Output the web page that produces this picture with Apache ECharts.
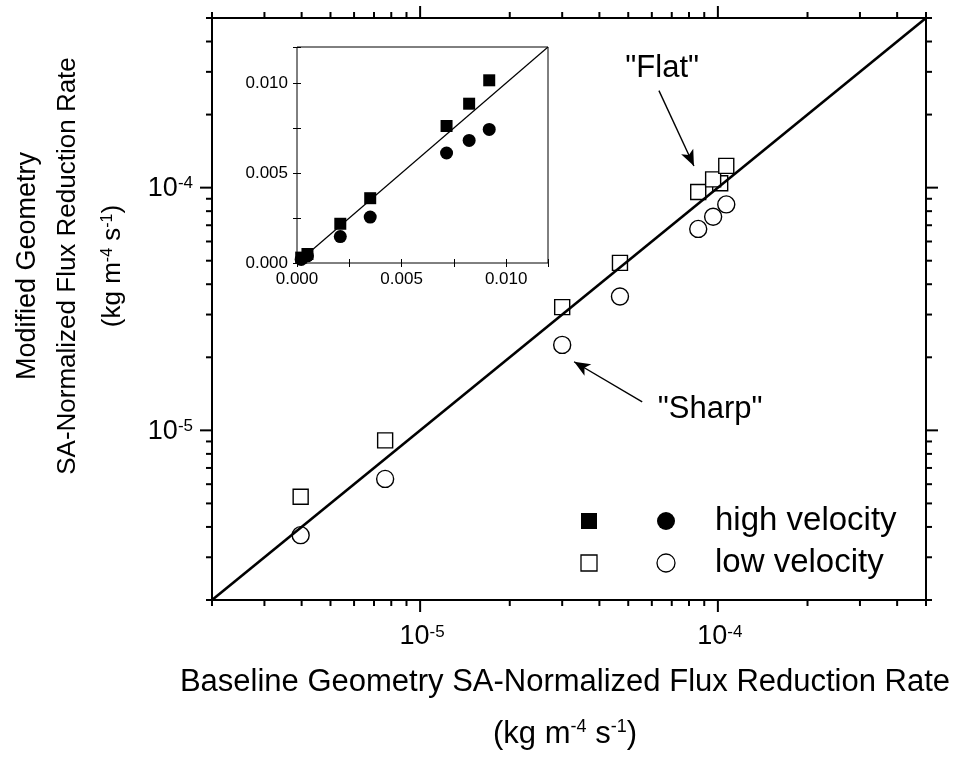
<!DOCTYPE html>
<html><head><meta charset="utf-8">
<script src="https://cdn.jsdelivr.net/npm/echarts@6/dist/echarts.min.js"></script>
<style>html,body{margin:0;padding:0;background:#fff}#c{width:966px;height:757px}</style>
</head><body><div id="c"></div>
<script>
const FONT = '"Liberation Sans", Arial, Helvetica, sans-serif';

// ---- main plot (log-log), low velocity, open symbols ----
const lowSquareX = [1.018e-4, 3.97e-6, 7.63e-6, 3.0e-5, 4.69e-5, 8.59e-5, 9.64e-5, 1.067e-4];
const lowSquareY = [1.042e-4, 5.33e-6, 9.09e-6, 3.22e-5, 4.90e-5, 9.59e-5, 1.082e-4, 1.229e-4];
const lowCircleX = [3.97e-6, 7.63e-6, 3.0e-5, 4.69e-5, 8.59e-5, 9.64e-5, 1.067e-4];
const lowCircleY = [3.70e-6, 6.31e-6, 2.25e-5, 3.56e-5, 6.76e-5, 7.59e-5, 8.53e-5];

// ---- inset (linear), high velocity, filled symbols ----
const highSquareX = [0.0002, 0.0005, 0.00207, 0.0035, 0.00715, 0.00823, 0.00919];
const highSquareY = [0.0003, 0.0005, 0.00218, 0.0036, 0.00761, 0.00885, 0.01015];
const highCircleX = [0.0002, 0.0005, 0.00207, 0.0035, 0.00715, 0.00823, 0.00919];
const highCircleY = [0.0002, 0.0004, 0.00147, 0.00255, 0.00611, 0.00681, 0.00742];

// ---- axes ----
const mainRange = [2e-6, 5e-4];
const majorTicks = [1e-5, 1e-4];
const majorTickExponents = ['-5', '-4'];
const minorTicks = [2e-6, 3e-6, 4e-6, 5e-6, 6e-6, 7e-6, 8e-6, 9e-6,
                    2e-5, 3e-5, 4e-5, 5e-5, 6e-5, 7e-5, 8e-5, 9e-5,
                    2e-4, 3e-4, 4e-4, 5e-4];
const insetRange = [0, 0.012];
const insetTickStep = 0.0025;
const insetLabelStep = 0.005;

// ---- annotations ----
const flatArrow = [[6.34e-5, 2.51e-4], [8.31e-5, 1.228e-4]];
const sharpArrow = [[5.57e-5, 1.31e-5], [3.29e-5, 1.917e-5]];
const flatLabel = {text: '"Flat"', at: [6.5e-5, 3.09e-4]};
const sharpLabel = {text: '"Sharp"', at: [9.42e-5, 1.222e-5]};

const zip = (a, b) => a.map((v, i) => [v, b[i]]);
const chart = echarts.init(document.getElementById('c'), null, {renderer: 'canvas'});

const tickRich = {
  n: {fontSize: 27, fontFamily: FONT, fill: '#000', lineHeight: 27},
  s: {fontSize: 17, fontFamily: FONT, fill: '#000', verticalAlign: 'top', lineHeight: 17}
};
const insetLabelFmt = v => (Math.abs(v / insetLabelStep - Math.round(v / insetLabelStep)) < 1e-6) ? v.toFixed(3) : '';

const insetAxisCommon = {
  gridIndex: 1, type: 'value', min: insetRange[0], max: insetRange[1], interval: insetTickStep,
  axisLine: {show: false}, splitLine: {show: false},
  axisTick: {show: true, inside: true, length: 4, lineStyle: {color: '#000', width: 1}}
};

// tick rows: [value, value, isMajor, majorIndex]
const tickRows = minorTicks.map(v => [v, v, 0, -1])
  .concat(majorTicks.map((v, i) => [v, v, 1, i]));

const option = {
  backgroundColor: '#fff',
  animation: false,
  grid: [
    {left: 212, top: 18, width: 714, height: 582, show: true, borderColor: '#000', borderWidth: 2, backgroundColor: 'transparent'},
    {left: 297, top: 47, width: 251, height: 216, show: true, borderColor: '#000', borderWidth: 1, backgroundColor: '#fff'}
  ],
  xAxis: [
    {gridIndex: 0, type: 'log', logBase: 10, min: mainRange[0], max: mainRange[1],
     axisLine: {show: false}, axisTick: {show: false}, splitLine: {show: false}, axisLabel: {show: false}},
    Object.assign({}, insetAxisCommon, {position: 'bottom',
     axisLabel: {fontFamily: FONT, fontSize: 17, color: '#000', margin: 8, formatter: insetLabelFmt}}),
    Object.assign({}, insetAxisCommon, {position: 'top', axisLabel: {show: false}})
  ],
  yAxis: [
    {gridIndex: 0, type: 'log', logBase: 10, min: mainRange[0], max: mainRange[1],
     axisLine: {show: false}, axisTick: {show: false}, splitLine: {show: false}, axisLabel: {show: false}},
    Object.assign({}, insetAxisCommon, {position: 'left',
     axisLabel: {fontFamily: FONT, fontSize: 17, color: '#000', margin: 9, formatter: insetLabelFmt}}),
    Object.assign({}, insetAxisCommon, {position: 'right', axisLabel: {show: false}})
  ],
  series: [
    {name: 'low velocity (square)', type: 'scatter', xAxisIndex: 0, yAxisIndex: 0,
     symbol: 'rect', symbolSize: 15, data: zip(lowSquareX, lowSquareY),
     itemStyle: {color: '#fff', borderColor: '#000', borderWidth: 1.4, opacity: 1}},
    {name: 'low velocity (circle)', type: 'scatter', xAxisIndex: 0, yAxisIndex: 0,
     symbol: 'circle', symbolSize: 17, data: zip(lowCircleX, lowCircleY),
     itemStyle: {color: '#fff', borderColor: '#000', borderWidth: 1.4, opacity: 1}},
    {name: 'y = x', type: 'line', xAxisIndex: 0, yAxisIndex: 0, symbol: 'none', silent: true,
     data: [[mainRange[0], mainRange[0]], [mainRange[1], mainRange[1]]],
     lineStyle: {color: '#000', width: 2.6}, z: 3,
     markLine: {silent: true, symbol: ['none', 'arrow'], symbolSize: [10, 16], label: {show: false},
       lineStyle: {color: '#000', width: 1.4, type: 'solid'},
       data: [
         [{coord: flatArrow[0]}, {coord: flatArrow[1]}],
         [{coord: sharpArrow[0]}, {coord: sharpArrow[1]}]
       ]}},
    {name: 'ticks', type: 'custom', xAxisIndex: 0, yAxisIndex: 0, silent: true, clip: false, z: 4,
     data: tickRows,
     renderItem: (params, api) => {
       const v = api.value(0);
       const major = api.value(2) === 1;
       const L = major ? 12 : 6;
       const b = api.coord([v, mainRange[0]]);
       const t = api.coord([v, mainRange[1]]);
       const l = api.coord([mainRange[0], v]);
       const r = api.coord([mainRange[1], v]);
       const st = {stroke: '#000', lineWidth: 2};
       const children = [
         {type: 'line', shape: {x1: b[0], y1: b[1], x2: b[0], y2: b[1] + L}, style: st},
         {type: 'line', shape: {x1: t[0], y1: t[1], x2: t[0], y2: t[1] - L}, style: st},
         {type: 'line', shape: {x1: l[0], y1: l[1], x2: l[0] - L, y2: l[1]}, style: st},
         {type: 'line', shape: {x1: r[0], y1: r[1], x2: r[0] + L, y2: r[1]}, style: st}
       ];
       if (major) {
         const lab = '{n|10}{s|' + majorTickExponents[api.value(3)] + '}';
         children.push({type: 'text', x: b[0] + 2, y: b[1] + 37,
           style: {text: lab, rich: tickRich, align: 'center', verticalAlign: 'middle', fill: '#000', fontFamily: FONT}});
         children.push({type: 'text', x: l[0] - 19, y: l[1] + 1,
           style: {text: lab, rich: tickRich, align: 'right', verticalAlign: 'middle', fill: '#000', fontFamily: FONT}});
       }
       return {type: 'group', children: children};
     }},
    {name: 'high velocity (square)', type: 'scatter', xAxisIndex: 1, yAxisIndex: 1,
     symbol: 'rect', symbolSize: 12, data: zip(highSquareX, highSquareY),
     itemStyle: {color: '#000', opacity: 1}, z: 5},
    {name: 'high velocity (circle)', type: 'scatter', xAxisIndex: 1, yAxisIndex: 1,
     symbol: 'circle', symbolSize: 13, data: zip(highCircleX, highCircleY),
     itemStyle: {color: '#000', opacity: 1}, z: 5},
    {name: 'inset y = x', type: 'line', xAxisIndex: 1, yAxisIndex: 1, symbol: 'none', silent: true,
     data: [[insetRange[0], insetRange[0]], [insetRange[1], insetRange[1]]],
     lineStyle: {color: '#000', width: 1.2}, z: 6}
  ]
};
chart.setOption(option);

const toPx = p => chart.convertToPixel({xAxisIndex: 0, yAxisIndex: 0}, p);
const fp = toPx(flatLabel.at), sp = toPx(sharpLabel.at);
const txt = (x, y, text, size, extra) => Object.assign({
  type: 'text', x: x, y: y, silent: true,
  style: {text: text, fontFamily: FONT, fontSize: size, fill: '#000', align: 'center', verticalAlign: 'middle'}
}, extra || {});
const supRich = {
  s: {fontSize: 18, fontFamily: FONT, fill: '#000', verticalAlign: 'top'},
  n: {fontSize: 31, fontFamily: FONT, fill: '#000'}
};
const supRichY = {
  s: {fontSize: 16, fontFamily: FONT, fill: '#000', verticalAlign: 'top'},
  n: {fontSize: 26, fontFamily: FONT, fill: '#000'}
};
chart.setOption({
  graphic: [
    txt(fp[0], fp[1], flatLabel.text, 31),
    txt(sp[0], sp[1], sharpLabel.text, 31),
    // x title
    txt(565, 682, 'Baseline Geometry SA-Normalized Flux Reduction Rate', 31),
    {type: 'text', x: 565, y: 734, silent: true,
     style: {text: '{n|(kg m}{s|-4}{n| s}{s|-1}{n|)}', rich: supRich, align: 'center', verticalAlign: 'middle', fontFamily: FONT}},
    // y title (rotated)
    txt(28, 266, 'Modified Geometry', 27, {rotation: Math.PI / 2}),
    txt(68, 266, 'SA-Normalized Flux Reduction Rate', 26, {rotation: Math.PI / 2}),
    {type: 'text', x: 113, y: 266, rotation: Math.PI / 2, silent: true,
     style: {text: '{n|(kg m}{s|-4}{n| s}{s|-1}{n|)}', rich: supRichY, align: 'center', verticalAlign: 'middle', fontFamily: FONT}},
    // legend
    {type: 'rect', silent: true, shape: {x: 589 - 8, y: 521 - 8, width: 16, height: 16}, style: {fill: '#000'}},
    {type: 'circle', silent: true, shape: {cx: 666, cy: 521, r: 9}, style: {fill: '#000'}},
    txt(715, 521, 'high velocity', 33, {style: {text: 'high velocity', fontFamily: FONT, fontSize: 33, fill: '#000', align: 'left', verticalAlign: 'middle'}}),
    {type: 'rect', silent: true, shape: {x: 589 - 8, y: 563 - 8, width: 16, height: 16}, style: {fill: '#fff', stroke: '#000', lineWidth: 1.3}},
    {type: 'circle', silent: true, shape: {cx: 666, cy: 563, r: 9}, style: {fill: '#fff', stroke: '#000', lineWidth: 1.3}},
    txt(715, 563, 'low velocity', 33, {style: {text: 'low velocity', fontFamily: FONT, fontSize: 33, fill: '#000', align: 'left', verticalAlign: 'middle'}})
  ]
});
</script>
</body></html>
